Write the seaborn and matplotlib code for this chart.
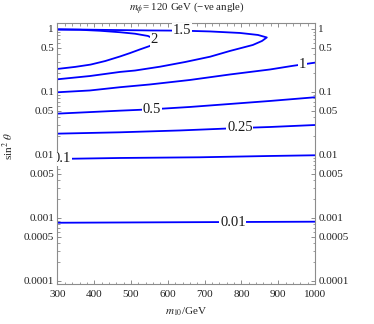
import numpy as np
import pandas as pd
import matplotlib
matplotlib.use("Agg")
import matplotlib.pyplot as plt
import matplotlib.ticker as mticker
import seaborn as sns

# ---- contour traces (m10 in GeV, sin^2 theta) ----
m_lvl2 = [300, 348, 390, 430, 470, 497, 524, 551, 565, 568]
s_lvl2 = [0.232, 0.250, 0.272, 0.310, 0.366, 0.414, 0.473, 0.537, 0.610, 0.669]
m_lvl2_up = [568, 546, 511, 470, 416, 361, 300]
s_lvl2_up = [0.669, 0.774, 0.840, 0.887, 0.936, 0.970, 0.975]

m_lvl15 = [300, 443, 551, 638, 715, 796, 845, 869, 856, 831, 769, 715, 647, 579, 511, 470, 388, 300]
s_lvl15 = [0.99, 0.964, 0.947, 0.940, 0.913, 0.864, 0.803, 0.733, 0.645, 0.557,
           0.448, 0.363, 0.299, 0.252, 0.219, 0.208, 0.179, 0.159]

m_lvl1 = [300, 388, 470, 551, 660, 769, 878, 938, 1000]
s_lvl1 = [0.0989, 0.1056, 0.119, 0.1315, 0.155, 0.1896, 0.2276, 0.259, 0.292]

m_lvl05 = [300, 470, 557, 660, 769, 878, 1000]
s_lvl05 = [0.0453, 0.0505, 0.0531, 0.0578, 0.0645, 0.072, 0.0824]

m_lvl025 = [300, 470, 633, 796, 878, 1000]
s_lvl025 = [0.0218, 0.0229, 0.0245, 0.0268, 0.0278, 0.0299]

m_lvl01 = [300, 470, 687, 878, 1000]
s_lvl01 = [0.00865, 0.00896, 0.00919, 0.00964, 0.00989]

m_lvl001 = [300, 650, 1000]
s_lvl001 = [0.00084, 0.000857, 0.000873]

# contour labels
label_text = ["2", "1.5", "1", "0.5", "0.25", "0.1", "0.01"]
label_m = [562, 638, 965, 557, 796, 312, 777]
label_s = [0.68, 0.940, 0.268, 0.0531, 0.0268, 0.00865, 0.00086]

# ticks
xtick_vals = [300, 400, 500, 600, 700, 800, 900, 1000]
ytick_vals = [1, 0.5, 0.1, 0.05, 0.01, 0.005, 0.001, 0.0005, 0.0001]
ytick_labels = ["1", "0.5", "0.1", "0.05", "0.01", "0.005", "0.001", "0.0005", "0.0001"]

title_text = r"$m_\phi$= 120 GeV (−ve angle)"
xlabel_text = r"$m_{10}$/GeV"
ylabel_text = r"sin$^2$ $\theta$"

# ---- build table ----
traces = [
    ("2", m_lvl2_up[::-1] + m_lvl2[::-1], s_lvl2_up[::-1] + s_lvl2[::-1]),
    ("1.5", m_lvl15, s_lvl15),
    ("1", m_lvl1, s_lvl1),
    ("0.5", m_lvl05, s_lvl05),
    ("0.25", m_lvl025, s_lvl025),
    ("0.1", m_lvl01, s_lvl01),
    ("0.01", m_lvl001, s_lvl001),
]
frames = []
for lvl, mm, ss in traces:
    frames.append(pd.DataFrame({"m": mm, "s": ss, "level": lvl, "order": np.arange(len(mm))}))
df = pd.concat(frames, ignore_index=True)

sns.set_theme(style="white")
plt.rcParams["font.family"] = ["Liberation Serif", "DejaVu Serif"]
plt.rcParams["mathtext.fontset"] = "stix"

fig = plt.figure(figsize=(3.74, 3.24), dpi=100)
ax = fig.add_axes([0.1537, 0.1235, 0.6885, 0.8046])
ax.set_yscale("log")

sns.lineplot(data=df, x="m", y="s", units="level", estimator=None, sort=False,
             color="#0000ff", lw=1.3, ax=ax, legend=False)

for t, mx, sy in zip(label_text, label_m, label_s):
    ax.text(mx, sy, t, ha="center", va="center", fontsize=10.5, color="#1a1a1a",
            bbox=dict(boxstyle="square,pad=0.05", fc="white", ec="none"),
            clip_on=True, zorder=5)

ax.set_xlim(300, 1000)
ax.set_ylim(8.96e-5, 1.23)

ax.xaxis.set_major_locator(mticker.FixedLocator(xtick_vals))
ax.xaxis.set_minor_locator(mticker.MultipleLocator(20))
ax.yaxis.set_major_locator(mticker.FixedLocator(ytick_vals))
ax.yaxis.set_major_formatter(mticker.FixedFormatter(ytick_labels))
ax.yaxis.set_minor_locator(mticker.LogLocator(base=10, subs=[2, 3, 4, 6, 7, 8, 9], numticks=20))
ax.yaxis.set_minor_formatter(mticker.NullFormatter())

frame_col = "#8c8c8c"
for sp in ax.spines.values():
    sp.set_color(frame_col)
    sp.set_linewidth(0.8)
ax.tick_params(which="both", direction="in", top=True, right=True, left=True, bottom=True,
               labelright=True, color=frame_col, labelsize=8, labelcolor="#222222", pad=2.5)
ax.tick_params(axis="x", which="both", pad=4)
ax.tick_params(which="major", length=3, width=0.7)
ax.tick_params(which="minor", length=1.8, width=0.6)

ax.set_xlabel(xlabel_text, fontsize=8, color="#222222", labelpad=5)
ax.set_ylabel(ylabel_text, fontsize=8, color="#222222")
ax.yaxis.set_label_coords(-0.16, 0.53)
fig.text(0.5, 0.975, title_text, ha="center", va="center", fontsize=7.8, color="#222222")

fig.savefig("out.png", dpi=100)
